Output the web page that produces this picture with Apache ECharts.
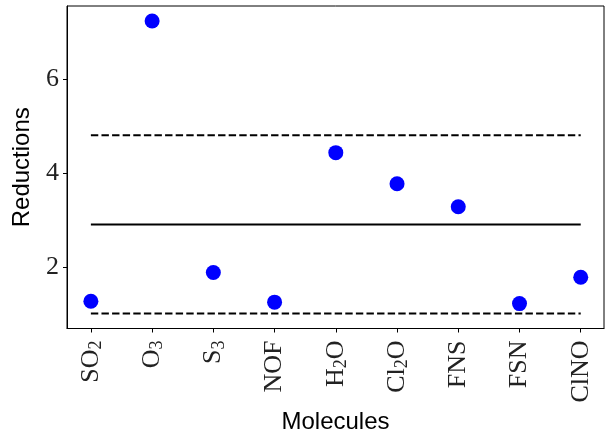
<!DOCTYPE html>
<html>
<head>
<meta charset="utf-8">
<script src="https://cdn.jsdelivr.net/npm/echarts@6/dist/echarts.min.js"></script>
<style>
html,body{margin:0;padding:0;background:#fff;}
#chart{width:606px;height:433px;}
</style>
</head>
<body>
<div id="chart"></div>
<script>
// Data
var moleculeMain = ['SO', 'O', 'S', 'NOF', 'H', 'Cl', 'FNS', 'FSN', 'ClNO'];
var moleculeSub  = ['2', '3', '3', '', '2', '2', '', '', ''];
var moleculeTail = ['', '', '', '', 'O', 'O', '', '', ''];
var reductions = [1.28, 7.24, 1.89, 1.26, 4.44, 3.78, 3.29, 1.23, 1.79];
var meanValue = 2.91;
var upperValue = 4.81;
var lowerValue = 1.02;
var yTicks = [2, 4, 6];
var xTicks = [0, 1, 2, 3, 4, 5, 6, 7, 8];

var scatterData = reductions.map(function (v, i) { return [i, v]; });
var lastIdx = reductions.length - 1;
function hLine(v) { return [[0, v], [lastIdx, v]]; }

function labelFor(i) {
  var s = '{m|' + moleculeMain[i] + '}';
  if (moleculeSub[i]) s += '{s|' + moleculeSub[i] + '}';
  if (moleculeTail[i]) s += '{m|' + moleculeTail[i] + '}';
  return s;
}

var chart = echarts.init(document.getElementById('chart'), null, {renderer: 'canvas'});
chart.setOption({
  animation: false,
  backgroundColor: '#fff',
  grid: {
    left: 67, right: 2, top: 6, bottom: 104.5,
    containLabel: false,
    outerBoundsMode: 'none',
    show: true, borderColor: '#000', borderWidth: 1, backgroundColor: 'transparent'
  },
  xAxis: {
    type: 'value',
    min: -0.39, max: 8.38,
    name: 'Molecules',
    nameLocation: 'middle',
    nameGap: 80,
    nameTextStyle: {fontFamily: 'Liberation Sans', fontSize: 24, color: '#000'},
    splitLine: {show: false},
    axisLine: {show: true, onZero: false, lineStyle: {color: '#000', width: 1}},
    axisTick: {show: true, length: 4, customValues: xTicks, lineStyle: {color: '#000'}},
    axisLabel: {
      customValues: xTicks,
      rotate: 90,
      margin: 12,
      formatter: function (v) { return labelFor(Math.round(v)); },
      rich: {
        m: {fontFamily: 'Liberation Serif', fontSize: 26, color: '#222', lineHeight: 26},
        s: {fontFamily: 'Liberation Serif', fontSize: 18, color: '#222', lineHeight: 18, padding: [11, 0, 0, 0]}
      }
    }
  },
  yAxis: {
    type: 'value',
    min: 0.70, max: 7.56,
    name: 'Reductions',
    nameLocation: 'middle',
    nameGap: 33,
    nameTextStyle: {fontFamily: 'Liberation Sans', fontSize: 24, color: '#000'},
    splitLine: {show: false},
    axisLine: {show: true, onZero: false, lineStyle: {color: '#000', width: 1}},
    axisTick: {show: true, length: 4, customValues: yTicks, lineStyle: {color: '#000'}},
    axisLabel: {
      customValues: yTicks,
      margin: 8,
      fontFamily: 'Liberation Serif', fontSize: 26, color: '#222'
    }
  },
  series: [
    {type: 'line', data: hLine(upperValue), symbol: 'none', silent: true,
     lineStyle: {color: '#000', width: 2, type: [7.4, 3.2]}, z: 1},
    {type: 'line', data: hLine(meanValue), symbol: 'none', silent: true,
     lineStyle: {color: '#000', width: 2, type: 'solid'}, z: 1},
    {type: 'line', data: hLine(lowerValue), symbol: 'none', silent: true,
     lineStyle: {color: '#000', width: 2, type: [7.4, 3.2]}, z: 1},
    {type: 'scatter', data: scatterData, symbolSize: 15,
     itemStyle: {color: '#0000ff', opacity: 1}, z: 3}
  ]
});
</script>
</body>
</html>
